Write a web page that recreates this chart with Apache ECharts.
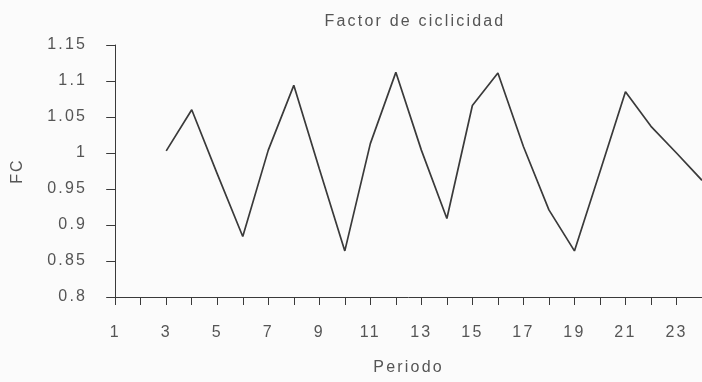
<!DOCTYPE html>
<html>
<head>
<meta charset="utf-8">
<style>
  html, body { margin: 0; padding: 0; background: #fbfbfb; }
  #chart { width: 702px; height: 382px; }
</style>
<script src="https://cdn.jsdelivr.net/npm/echarts@6/dist/echarts.min.js"></script>
</head>
<body>
<div id="chart"></div>
<script>
// Widen letter spacing of canvas text (the reference uses spaced-out text)
(function () {
  var proto = CanvasRenderingContext2D.prototype;
  var desc = Object.getOwnPropertyDescriptor(proto, 'font');
  if (desc && desc.set && ('letterSpacing' in proto)) {
    Object.defineProperty(proto, 'font', {
      configurable: true,
      get: function () { return desc.get.call(this); },
      set: function (v) { desc.set.call(this, v); this.letterSpacing = '2.2px'; }
    });
  }
})();

// ---- Data ----
var periods = ['1','2','3','4','5','6','7','8','9','10','11','12','13','14','15','16','17','18','19','20','21','22','23','24'];
var fcValues = [null, null, 1.003, 1.060, 0.971, 0.884, 1.004, 1.094, 0.978, 0.864, 1.013, 1.112, 1.004, 0.909, 1.066, 1.111, 1.009, 0.921, 0.864, 0.974, 1.085, 1.037, 1.000, 0.962];
var yTicks = { min: 0.8, max: 1.15, step: 0.05 };
var titleText = 'Factor de ciclicidad';
var xName = 'Periodo';
var yName = 'FC';

var textColor = '#555555';
var font = 'Liberation Sans, Arial, sans-serif';

var chart = echarts.init(document.getElementById('chart'), null, { renderer: 'canvas' });
chart.setOption({
  backgroundColor: '#fbfbfb',
  animation: false,
  title: {
    text: titleText,
    left: 410,
    textAlign: 'center',
    top: 7,
    textStyle: { fontFamily: font, fontSize: 16, fontWeight: 'normal', color: textColor }
  },
  grid: { left: 113, right: -3, top: 45, bottom: 85, containLabel: false },
  xAxis: {
    type: 'category',
    data: periods,
    boundaryGap: false,
    name: xName,
    nameLocation: 'middle',
    nameGap: 61,
    nameTextStyle: { fontFamily: font, fontSize: 16, color: textColor },
    axisLine: { lineStyle: { color: '#3a3a3a', width: 1 } },
    axisTick: { interval: 0, length: 8, lineStyle: { color: '#3a3a3a' } },
    axisLabel: { interval: 1, margin: 26, fontFamily: font, fontSize: 16, color: textColor },
    splitLine: { show: false }
  },
  yAxis: {
    type: 'value',
    min: yTicks.min,
    max: yTicks.max,
    interval: yTicks.step,
    name: yName,
    nameLocation: 'middle',
    nameGap: 89,
    nameTextStyle: { fontFamily: font, fontSize: 16, color: textColor },
    axisLine: { show: true, lineStyle: { color: '#3a3a3a', width: 1 } },
    axisTick: { show: true, length: 9, lineStyle: { color: '#3a3a3a' } },
    axisLabel: {
      margin: 28, fontFamily: font, fontSize: 16, color: textColor,
      formatter: function (v) { return String(+v.toFixed(2)); }
    },
    splitLine: { show: false }
  },
  series: [{
    type: 'line',
    data: fcValues,
    symbol: 'none',
    connectNulls: false,
    lineStyle: { color: '#3a3a3a', width: 1.7 }
  }]
});
</script>
</body>
</html>
